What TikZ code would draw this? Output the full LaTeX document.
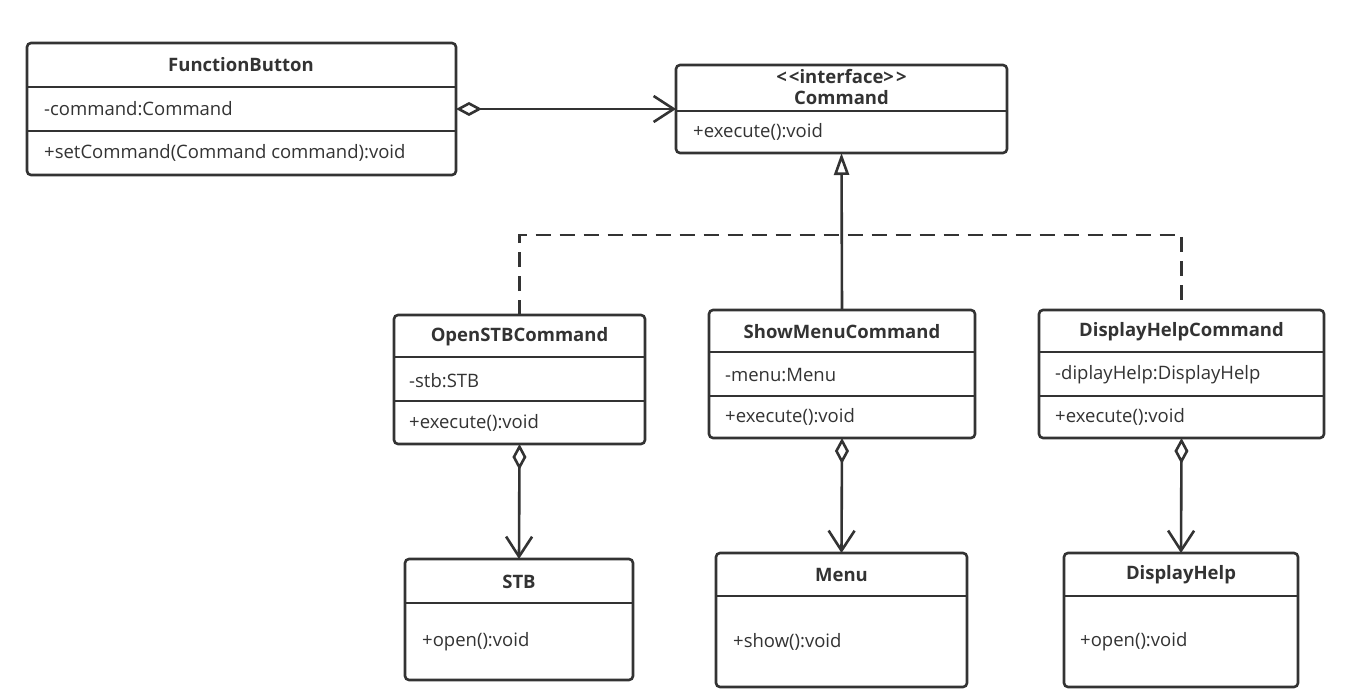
\documentclass[tikz,border=0pt]{standalone}
\usepackage{fontspec}
\setmainfont{Open Sans}
\usetikzlibrary{arrows.meta}
\definecolor{ln}{HTML}{333333}
\newcommand\fsz{\fontsize{18.5}{22}\selectfont}
\tikzset{
  cls/.style={draw=ln, line width=2.6pt, rounded corners=4pt, inner sep=0pt, outer sep=0pt, anchor=north west, fill=white},
  ttl/.style={font=\bfseries\fsz, text=ln, inner sep=0pt},
  txt/.style={font=\fsz, text=ln, inner sep=0pt, anchor=west},
  divl/.style={draw=ln, line width=2.6pt},
  con/.style={draw=ln, line width=2.6pt, line join=miter},
  agg/.style={con, {Diamond[open,length=26pt,width=14pt]}-{Straight Barb[length=20pt,width=26pt]}},
  gen/.style={con, -{Triangle[open,length=22pt,width=15pt]}},
}
\begin{document}
\begin{tikzpicture}[x=1pt,y=-1pt]
\useasboundingbox (0,0) rectangle (1349,695);
% FunctionButton
\node[cls, minimum width=429pt, minimum height=132pt] (fb) at (27,43) {};
\draw[divl] (27,87) -- (456,87);
\draw[divl] (27,131) -- (456,131);
\node[ttl] (fbt) at (241,65) {FunctionButton};
\node[txt] (fba) at (44,109) {-command:Command};
\node[txt] (fbm) at (44,153) {+setCommand(Command command):void};
% Command
\node[cls, minimum width=331pt, minimum height=88pt] (cmd) at (676,65) {};
\draw[divl] (676,111) -- (1007,111);
\node[ttl] (cmdt1) at (841.5,77) {\char`<\kern2pt\char`<interface\char`>\kern2pt\char`>};
\node[ttl] (cmdt2) at (841.5,98) {Command};
\node[txt] (cmdm) at (693,132) {+execute():void};
% OpenSTBCommand
\node[cls, minimum width=251pt, minimum height=129pt] (osc) at (394,315) {};
\draw[divl] (394,357) -- (645,357);
\draw[divl] (394,401) -- (645,401);
\node[ttl] (osct) at (519.5,337) {OpenSTBCommand};
\node[txt] (osca) at (409,381) {-stb:STB};
\node[txt] (oscm) at (409,423) {+execute():void};
% ShowMenuCommand
\node[cls, minimum width=266pt, minimum height=128pt] (smc) at (709,310) {};
\draw[divl] (709,352) -- (975,352);
\node[ttl] (smct) at (842,332) {ShowMenuCommand};
\draw[divl] (709,396) -- (975,396);
\node[txt] (smca) at (725,375) {-menu:Menu};
\node[txt] (smcm) at (725,417) {+execute():void};
% DisplayHelpCommand
\node[cls, minimum width=285pt, minimum height=128pt] (dhc) at (1039,310) {};
\draw[divl] (1039,352) -- (1324,352);
\draw[divl] (1039,396) -- (1324,396);
\node[ttl] (dhct) at (1181.5,332) {DisplayHelpCommand};
\node[txt] (dhca) at (1055,375) {-diplayHelp:DisplayHelp};
\node[txt] (dhcm) at (1055,417) {+execute():void};
% STB
\node[cls, minimum width=228pt, minimum height=121pt] (stb) at (405,559) {};
\draw[divl] (405,603) -- (633,603);
\node[ttl] (stbt) at (519,582) {STB};
\node[txt] (stbm) at (422,642) {+open():void};
% Menu
\node[cls, minimum width=251pt, minimum height=134pt] (menu) at (716,553) {};
\draw[divl] (716,596) -- (967,596);
\node[ttl] (menut) at (841.5,575) {Menu};
\node[txt] (menum) at (733,642) {+show():void};
% DisplayHelp
\node[cls, minimum width=234pt, minimum height=134pt] (dh) at (1064,553) {};
\draw[divl] (1064,596) -- (1298,596);
\node[ttl] (dht) at (1181,575) {DisplayHelp};
\node[txt] (dhm) at (1080,642) {+open():void};
% connectors
\draw[agg] (fb.east) -- (cmd.west);
\coordinate (j) at (smc.north |- 0,235);
\draw[con, dashed, dash pattern=on 15pt off 9pt] (osc.north) |- (j) -| (dhc.north);
\draw[gen] (smc.north) -- (cmd.south);
\draw[agg] (osc.south) -- (stb.north);
\draw[agg] (smc.south) -- (menu.north);
\draw[agg] (dhc.south) -- (dh.north);
\end{tikzpicture}
\end{document}
